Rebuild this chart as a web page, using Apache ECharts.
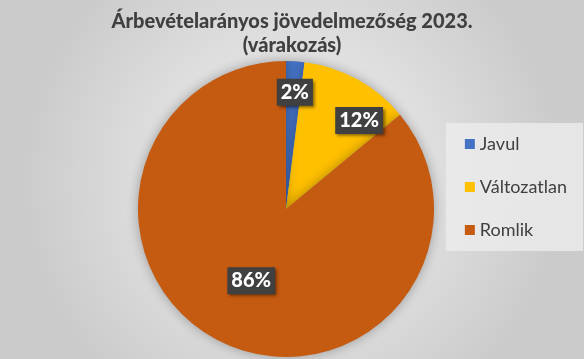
<!DOCTYPE html>
<html>
<head>
<meta charset="utf-8">
<script src="https://cdn.jsdelivr.net/npm/echarts@6/dist/echarts.min.js"></script>
<style>html,body{margin:0;padding:0;}#c{width:584px;height:359px;}</style>
</head>
<body>
<div id="c"></div>
<script>
const categories = ['Javul', 'Változatlan', 'Romlik'];
const values = [2, 12, 86];
const colors = ['#4472C4', '#FFC000', '#C55A11'];
const titleText = 'Árbevételarányos jövedelmezőség 2023.\n(várakozás)';
// label nudges (pixels) away from default inside position
const labelOffsets = [[4, -40], [36, -21], [-2, 2]];

const chart = echarts.init(document.getElementById('c'), null, {renderer: 'canvas'});
const font = 'Lato, "Open Sans", sans-serif';
chart.setOption({
  backgroundColor: {
    type: 'radial', x: 0.5, y: 0.5, r: 0.75,
    colorStops: [{offset: 0, color: '#f4f4f4'}, {offset: 1, color: '#cbcbcb'}]
  },
  animation: false,
  title: {
    text: titleText,
    left: 'center',
    top: 10,
    padding: 0,
    textStyle: {fontFamily: font, fontSize: 20, fontWeight: 900, color: '#404040', lineHeight: 24}
  },
  legend: {
    orient: 'vertical',
    right: 1,
    top: 123,
    itemWidth: 10,
    itemHeight: 10,
    itemGap: 25,
    padding: [12, 16, 12, 19],
    backgroundColor: 'rgba(236,236,236,0.8)',
    data: categories,
    textStyle: {fontFamily: font, fontSize: 18, color: '#404040'},
    icon: 'rect'
  },
  series: [{
    type: 'pie',
    center: [286, 209],
    radius: 148,
    startAngle: 90,
    clockwise: true,
    data: categories.map((n, i) => ({name: n, value: values[i], itemStyle: {color: colors[i]}})),
    itemStyle: {shadowBlur: 12, shadowColor: 'rgba(0,0,0,0.3)'},
    label: {
      position: 'inside',
      formatter: '{c}%',
      color: '#ffffff',
      fontFamily: font,
      fontSize: 20,
      fontWeight: 900,
      backgroundColor: '#404040',
      padding: [4, 4, 3, 4],
      shadowColor: 'rgba(0,0,0,0.5)',
      shadowBlur: 3,
      shadowOffsetX: 2,
      shadowOffsetY: 2
    },
    labelLine: {show: false},
    labelLayout: function (p) {
      const o = labelOffsets[p.dataIndex];
      return {dx: o[0], dy: o[1]};
    }
  }]
});
</script>
</body>
</html>
